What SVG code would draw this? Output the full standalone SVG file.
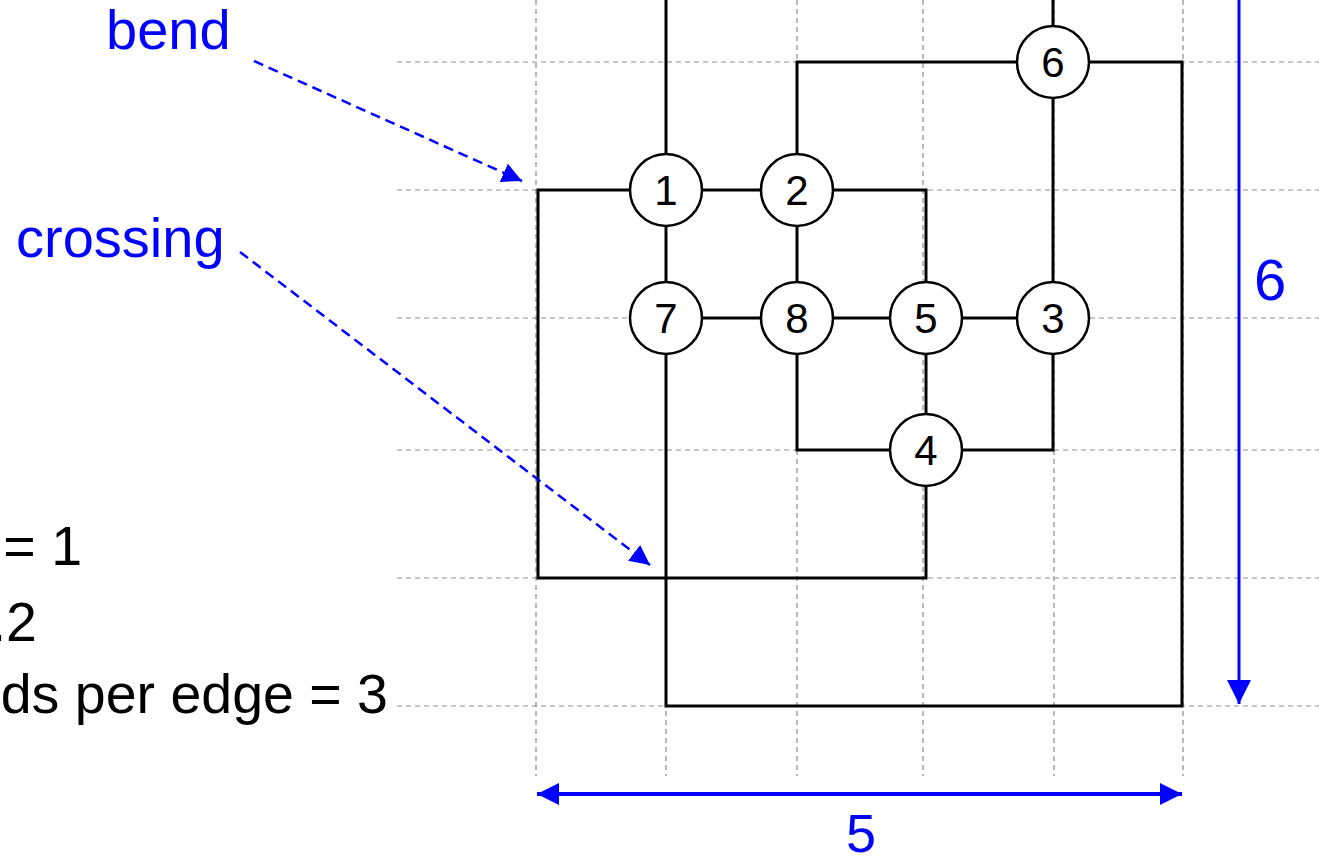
<svg xmlns="http://www.w3.org/2000/svg" width="1319" height="861" viewBox="0 0 1319 861">
<style>
.grid{stroke:#8c8c8c;stroke-width:1.2;stroke-dasharray:5,4;fill:none}
.edge{stroke:#000;stroke-width:3;fill:none;stroke-linejoin:miter}
.node circle{fill:#fff;stroke:#000;stroke-width:2.5}
.node text{font-family:"Liberation Sans",Arial,sans-serif;font-size:42px;fill:#000;text-anchor:middle}
.blue{fill:#0000ff;font-family:"Liberation Sans",Arial,sans-serif}
.ann{stroke:#0000ff;stroke-width:2.5;stroke-dasharray:10,6;fill:none}
.dim{stroke:#0000ff;fill:none}
.label{font-family:"Liberation Sans",Arial,sans-serif;font-size:55.5px;fill:#000;text-anchor:end}
</style>
<defs>
<marker id="ah" viewBox="0 0 10 10" refX="10" refY="5" markerWidth="8" markerHeight="8" markerUnits="strokeWidth" orient="auto">
<path d="M0,0 L10,5 L0,10 z" fill="#0000ff"/>
</marker>
<marker id="dh" viewBox="0 0 10 10" refX="10" refY="5" markerWidth="5.5" markerHeight="5.5" markerUnits="strokeWidth" orient="auto-start-reverse">
<path d="M0,0 L10,5 L0,10 z" fill="#0000ff"/>
</marker>
</defs>
<rect width="1319" height="861" fill="#fff"/>
<g id="grid">
<line class="grid" x1="397" y1="62" x2="1319" y2="62"/>
<line class="grid" x1="397" y1="190" x2="1319" y2="190"/>
<line class="grid" x1="397" y1="318" x2="1319" y2="318"/>
<line class="grid" x1="397" y1="450" x2="1319" y2="450"/>
<line class="grid" x1="397" y1="578" x2="1319" y2="578"/>
<line class="grid" x1="397" y1="706" x2="1319" y2="706"/>
<line class="grid" x1="536" y1="0" x2="536" y2="776"/>
<line class="grid" x1="666" y1="0" x2="666" y2="776"/>
<line class="grid" x1="797" y1="0" x2="797" y2="776"/>
<line class="grid" x1="923" y1="0" x2="923" y2="776"/>
<line class="grid" x1="1054" y1="0" x2="1054" y2="776"/>
<line class="grid" x1="1183" y1="0" x2="1183" y2="776"/>
</g>
<g id="connectors">
<path class="edge" d="M666,0 V190"/>
<path class="edge" d="M1053,0 V62"/>
<path class="edge" d="M1053,62 H1182 V706 H666 V318"/>
<path class="edge" d="M1053,62 H797 V190"/>
<path class="edge" d="M1053,62 V318"/>
<path class="edge" d="M666,190 H797"/>
<path class="edge" d="M666,190 H538 V578 H926 V450"/>
<path class="edge" d="M797,190 H926 V318"/>
<path class="edge" d="M666,190 V318"/>
<path class="edge" d="M797,190 V318"/>
<path class="edge" d="M666,318 H1053"/>
<path class="edge" d="M926,318 V450"/>
<path class="edge" d="M797,318 V450 H926"/>
<path class="edge" d="M926,450 H1053 V318"/>
</g>
<g id="node1" class="node"><circle cx="666" cy="190" r="36"/><text x="666" y="205">1</text></g>
<g id="node2" class="node"><circle cx="797" cy="190" r="36"/><text x="797" y="205">2</text></g>
<g id="node6" class="node"><circle cx="1053" cy="62" r="36"/><text x="1053" y="77">6</text></g>
<g id="node7" class="node"><circle cx="666" cy="318" r="36"/><text x="666" y="333">7</text></g>
<g id="node8" class="node"><circle cx="797" cy="318" r="36"/><text x="797" y="333">8</text></g>
<g id="node5" class="node"><circle cx="926" cy="318" r="36"/><text x="926" y="333">5</text></g>
<g id="node3" class="node"><circle cx="1053" cy="318" r="36"/><text x="1053" y="333">3</text></g>
<g id="node4" class="node"><circle cx="926" cy="450" r="36"/><text x="926" y="465">4</text></g>
<g id="annotations">
<text class="blue" x="106" y="49" font-size="56">bend</text>
<text class="blue" x="16" y="257" font-size="56">crossing</text>
<line class="ann" x1="254" y1="61" x2="522" y2="181" marker-end="url(#ah)"/>
<line class="ann" x1="240" y1="252" x2="650" y2="565" marker-end="url(#ah)"/>
<line class="dim" stroke-width="3" x1="1239" y1="-5" x2="1239" y2="704" marker-end="url(#ah)"/>
<text class="blue" x="1254" y="300" font-size="58">6</text>
<line class="dim" stroke-width="4" x1="537" y1="794" x2="1182" y2="794" marker-start="url(#dh)" marker-end="url(#dh)"/>
<text class="blue" x="861" y="852" font-size="54" text-anchor="middle">5</text>
</g>
<g id="legend">
<text class="label" x="82" y="565">= 1</text>
<text class="label" x="37" y="641">.2</text>
<text class="label" x="388" y="713">ds per edge = 3</text>
</g>
</svg>
